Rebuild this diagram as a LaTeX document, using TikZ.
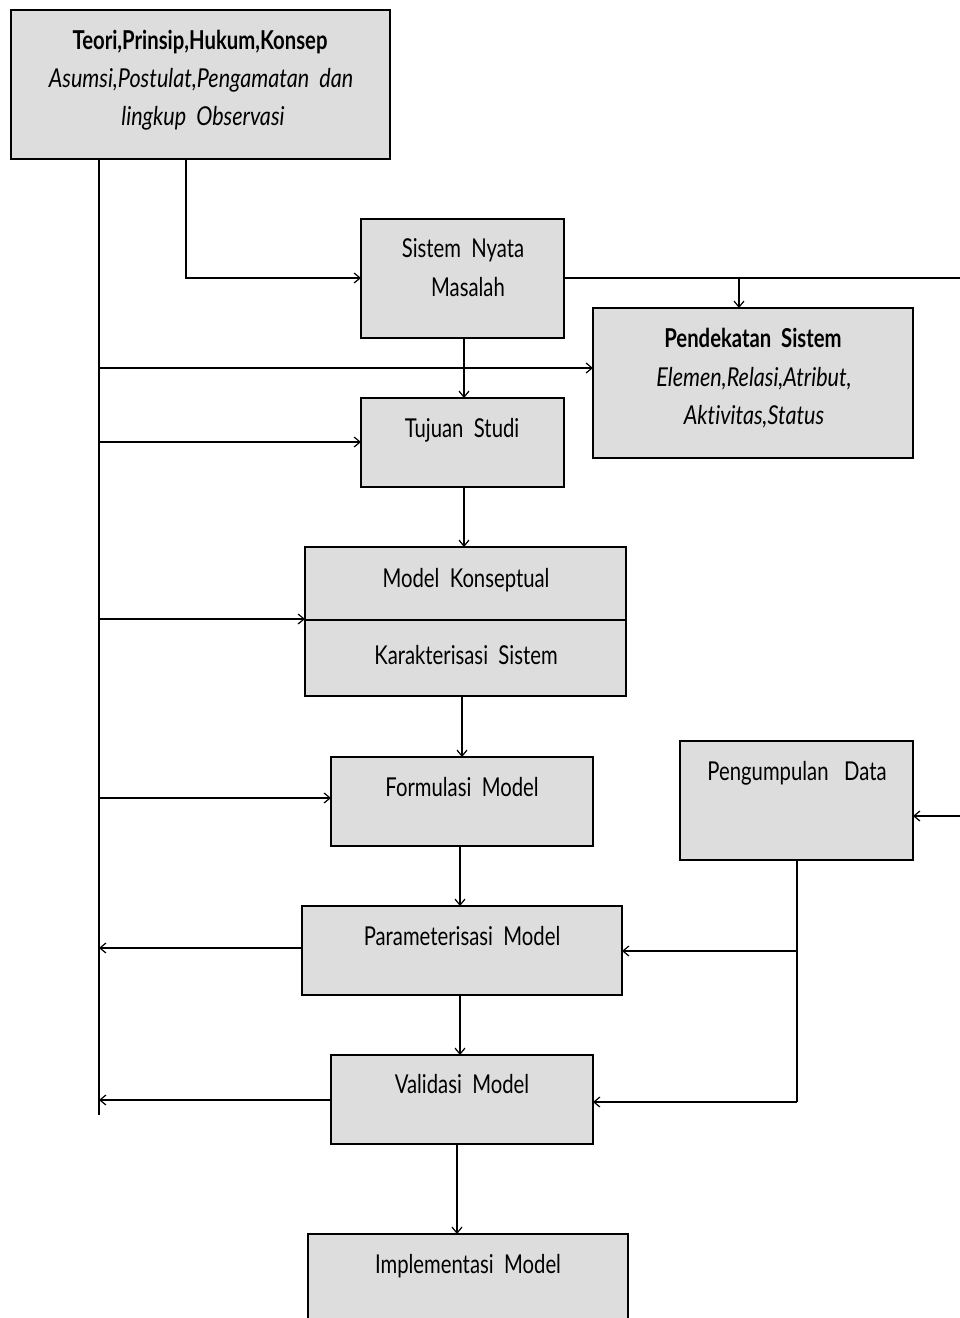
\documentclass[tikz,border=0pt]{standalone}
\usepackage{fontspec}
\setmainfont[FakeStretch=0.78, Ligatures={NoCommon}, ItalicFeatures={FakeStretch=0.83}]{Lato}
\usetikzlibrary{arrows.meta}
\definecolor{boxgray}{RGB}{221,221,221}
\tikzset{
  box/.style={draw=black, fill=boxgray, line width=1.8pt, anchor=north west, inner sep=0pt, outer sep=0pt},
  lbl/.style={anchor=base, inner sep=0pt, font=\fontsize{26}{30}\selectfont},
  conn/.style={line width=1.3pt, -{Straight Barb[length=6pt,width=10pt,line width=1.2pt]}},
  plain/.style={line width=1.3pt},
  spine/.style={line width=2.4pt}
}
\newcommand{\boxat}[5]{\node[box, minimum width=#4-#2, minimum height=#5-#3] (#1) at (#2,#3) {};}
\begin{document}
\begin{tikzpicture}[x=1pt,y=-1pt]
\useasboundingbox (0,0) rectangle (960,1318);
\clip (0,0) rectangle (960,1318);
\fill[white] (0,0) rectangle (960,1318);

% boxes
\boxat{teori}{11}{10}{390}{159}
\boxat{nyata}{361}{219}{564}{338}
\boxat{pendekatan}{593}{308}{913}{458}
\boxat{tujuan}{361}{398}{564}{487}
\boxat{konsep}{305}{547}{626}{696}
\boxat{formulasi}{331}{757}{593}{846}
\boxat{data}{680}{741}{913}{860}
\boxat{param}{302}{906}{622}{995}
\boxat{valid}{331}{1055}{593}{1144}
\boxat{impl}{308}{1234}{628}{1340}
\draw[line width=1.8pt] (konsep.west |- 0,620) -- (konsep.east |- 0,620);

% texts
\node[lbl, font=\fontsize{26}{30}\selectfont\bfseries] (t1) at (200,49) {Teori,Prinsip,Hukum,Konsep};
\node[lbl, font=\fontsize{26}{30}\selectfont\itshape] (t2) at (201,87) {Asumsi,Postulat,Pengamatan\ \ dan};
\node[lbl, font=\fontsize{26}{30}\selectfont\itshape] (t3) at (203,125) {lingkup\ \ Observasi};
\node[lbl] (n1) at (463,257) {Sistem\ \ Nyata};
\node[lbl] (n2) at (468,296) {Masalah};
\node[lbl, font=\fontsize{26}{30}\selectfont\bfseries] (p1) at (753,347) {Pendekatan\ \ Sistem};
\node[lbl, font=\fontsize{26}{30}\selectfont\itshape] (p2) at (754,386) {Elemen,Relasi,Atribut,};
\node[lbl, font=\fontsize{26}{30}\selectfont\itshape] (p3) at (754,424) {Aktivitas,Status};
\node[lbl] (tj) at (462,437) {Tujuan\ \ Studi};
\node[lbl] (k1) at (466,587) {Model\ \ Konseptual};
\node[lbl] (k2) at (466,664) {Karakterisasi\ \ Sistem};
\node[lbl] (fm) at (462,796) {Formulasi\ \ Model};
\node[lbl] (pd) at (797,780) {Pengumpulan\ \ \ Data};
\node[lbl] (pm) at (462,945) {Parameterisasi\ \ Model};
\node[lbl] (vm) at (462,1093) {Validasi\ \ Model};
\node[lbl] (im) at (468,1273) {Implementasi\ \ Model};

% spine on the left
\coordinate (sTop) at (99,159);
\coordinate (sBot) at (99,1115);
\draw[spine] (sTop) -- (sBot);

% connectors
\coordinate (tDrop) at (186,159);
\draw[conn] (tDrop) |- (nyata.west |- 0,278);
\coordinate (rEdge) at (962,278);
\draw[plain] (nyata.east |- 0,278) -- (rEdge);
\coordinate (pBr) at (739,278);
\draw[conn] (pBr) -- (pendekatan.north -| pBr);
\coordinate (rEdge2) at (962,816);
\draw[conn] (rEdge2) -- (data.east |- rEdge2);

\draw[conn] (99,368) -- (pendekatan.west |- 0,368);
\draw[conn] (99,442) -- (tujuan.west |- 0,442);
\draw[conn] (99,619) -- (konsep.west |- 0,619);
\draw[conn] (99,798) -- (formulasi.west |- 0,798);
\draw[conn] (param.west |- 0,948) -- (99,948);
\draw[conn] (valid.west |- 0,1100) -- (99,1100);

\draw[conn] (nyata.south -| 464,0) -- (tujuan.north -| 464,0);
\draw[conn] (tujuan.south -| 464,0) -- (konsep.north -| 464,0);
\draw[conn] (konsep.south -| 462,0) -- (formulasi.north -| 462,0);
\draw[conn] (formulasi.south -| 460,0) -- (param.north -| 460,0);
\draw[conn] (param.south -| 460,0) -- (valid.north -| 460,0);
\draw[conn] (valid.south -| 457,0) -- (impl.north -| 457,0);

\coordinate (dBr) at (797,951);
\draw[plain] (data.south -| dBr) -- (797,1102);
\draw[conn] (dBr) -- (param.east |- dBr);
\draw[conn] (797,1102) -- (valid.east |- 0,1102);
\end{tikzpicture}
\end{document}
